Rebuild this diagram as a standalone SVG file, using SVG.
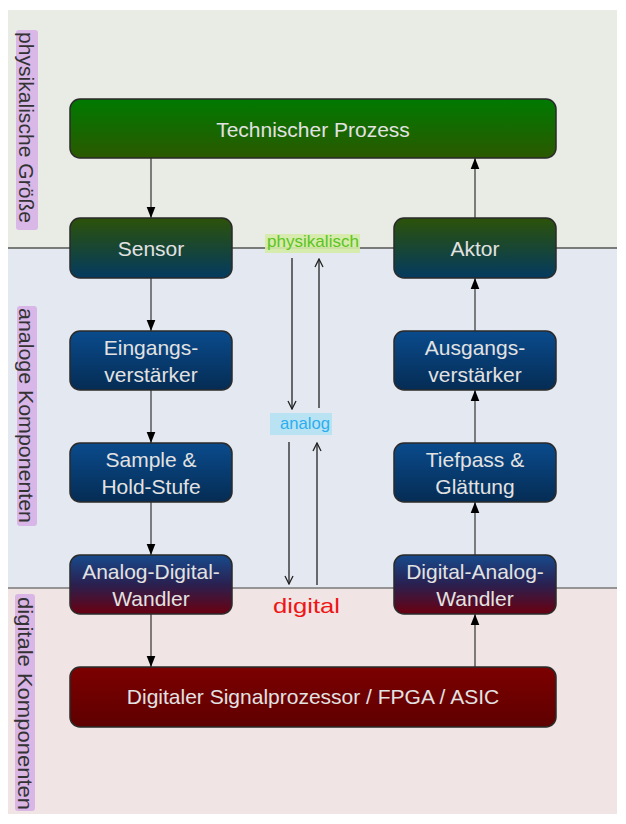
<svg xmlns="http://www.w3.org/2000/svg" width="626" height="824" viewBox="0 0 626 824">
<defs>
<linearGradient id="gGreen" x1="0" y1="0" x2="0" y2="1"><stop offset="0" stop-color="#007a00"/><stop offset="1" stop-color="#2b5800"/></linearGradient>
<linearGradient id="gOlive" x1="0" y1="0" x2="0" y2="1"><stop offset="0" stop-color="#2c5208"/><stop offset="1" stop-color="#043a60"/></linearGradient>
<linearGradient id="gBlue" x1="0" y1="0" x2="0" y2="1"><stop offset="0" stop-color="#0a4b8c"/><stop offset="1" stop-color="#052c54"/></linearGradient>
<linearGradient id="gConv" x1="0" y1="0" x2="0" y2="1"><stop offset="0" stop-color="#174a8c"/><stop offset="0.5" stop-color="#2a2050"/><stop offset="1" stop-color="#6a0010"/></linearGradient>
<linearGradient id="gRed" x1="0" y1="0" x2="0" y2="1"><stop offset="0" stop-color="#7c0000"/><stop offset="1" stop-color="#5e0000"/></linearGradient>
<marker id="tri" markerWidth="11" markerHeight="15" refX="14" refY="5.5" viewBox="0 0 14 11" markerUnits="userSpaceOnUse" orient="auto">
<path d="M0,0 L14,5.5 L0,11 Z" fill="#000"/>
</marker>
<marker id="vee" markerWidth="10" markerHeight="10" refX="9" refY="5" viewBox="0 0 10 10" markerUnits="userSpaceOnUse" orient="auto">
<path d="M1,1 L9,5 L1,9" fill="none" stroke="#222" stroke-width="1.3"/>
</marker>
</defs>
<style>
.box{stroke:#2a2a2a;stroke-width:1.5}
.lbl{font-family:"Liberation Sans",Arial,sans-serif;font-size:21px;fill:#e2e2e2;text-anchor:middle}
.side{font-family:"Liberation Sans",Arial,sans-serif;font-size:21px;fill:#333}
.hl{fill:#d6aee6;opacity:0.85}
.conn{stroke:#333;stroke-width:1.2;fill:none}
.mid{stroke:#222;stroke-width:1.3;fill:none}
.hand{font-family:"Liberation Sans",Arial,sans-serif;font-weight:normal}
</style>
<g id="background">
<rect x="8" y="10" width="609" height="238" fill="#e9ebe5"/>
<rect x="8" y="248" width="609" height="340" fill="#e4e9f1"/>
<rect x="8" y="588" width="609" height="226" fill="#f1e4e4"/>
<line x1="8" y1="248" x2="617" y2="248" stroke="#555" stroke-width="1.5"/>
<line x1="8" y1="588" x2="617" y2="588" stroke="#777" stroke-width="1.5"/>
</g>
<g id="side-labels">
<rect class="hl" x="16" y="30" width="22" height="200" rx="3"/>
<text class="side" x="19" y="32" transform="rotate(90 19 32)" textLength="191" lengthAdjust="spacingAndGlyphs">physikalische Größe</text>
<rect class="hl" x="17" y="306" width="20" height="220" rx="3"/>
<text class="side" x="19" y="308" transform="rotate(90 19 308)" textLength="215" lengthAdjust="spacingAndGlyphs">analoge Komponenten</text>
<rect class="hl" x="15" y="594" width="20" height="217" rx="3"/>
<text class="side" x="18" y="597" transform="rotate(90 18 597)" textLength="213" lengthAdjust="spacingAndGlyphs">digitale Komponenten</text>
</g>
<g id="connectors">
<line class="conn" x1="151" y1="158" x2="151" y2="218" marker-end="url(#tri)"/>
<line class="conn" x1="151" y1="278" x2="151" y2="331" marker-end="url(#tri)"/>
<line class="conn" x1="151" y1="390" x2="151" y2="443" marker-end="url(#tri)"/>
<line class="conn" x1="151" y1="502" x2="151" y2="555" marker-end="url(#tri)"/>
<line class="conn" x1="151" y1="614" x2="151" y2="667" marker-end="url(#tri)"/>
<line class="conn" x1="475" y1="667" x2="475" y2="614" marker-end="url(#tri)"/>
<line class="conn" x1="475" y1="555" x2="475" y2="502" marker-end="url(#tri)"/>
<line class="conn" x1="475" y1="443" x2="475" y2="390" marker-end="url(#tri)"/>
<line class="conn" x1="475" y1="331" x2="475" y2="278" marker-end="url(#tri)"/>
<line class="conn" x1="475" y1="218" x2="475" y2="158" marker-end="url(#tri)"/>
<line class="mid" x1="292" y1="258" x2="292" y2="409" marker-end="url(#vee)"/>
<line class="mid" x1="319" y1="408" x2="319" y2="259" marker-end="url(#vee)"/>
<line class="mid" x1="289" y1="442" x2="289" y2="584" marker-end="url(#vee)"/>
<line class="mid" x1="317" y1="585" x2="317" y2="443" marker-end="url(#vee)"/>
</g>
<g id="annotations">
<rect x="265" y="234" width="95" height="19" fill="#d4eba6" opacity="0.9"/>
<text class="hand" x="267" y="247" font-size="17" fill="#5cc41c" textLength="92" lengthAdjust="spacingAndGlyphs">physikalisch</text>
<rect x="270" y="413" width="62" height="22" fill="#b4e2f2" opacity="0.9"/>
<text class="hand" x="280" y="429" font-size="17" fill="#2aaef0" textLength="50" lengthAdjust="spacingAndGlyphs">analog</text>
<text class="hand" x="273" y="613" font-size="21" fill="#ee1515" textLength="67" lengthAdjust="spacingAndGlyphs">digital</text>
</g>
<g id="n-prozess">
<rect class="box" x="70" y="99" width="486" height="59" rx="10" fill="url(#gGreen)"/>
<text class="lbl" x="313" y="137">Technischer Prozess</text>
</g>
<g id="n-sensor">
<rect class="box" x="70" y="218" width="162" height="60" rx="10" fill="url(#gOlive)"/>
<text class="lbl" x="151" y="256">Sensor</text>
</g>
<g id="n-aktor">
<rect class="box" x="394" y="218" width="162" height="60" rx="10" fill="url(#gOlive)"/>
<text class="lbl" x="475" y="256">Aktor</text>
</g>
<g id="n-eingang">
<rect class="box" x="70" y="331" width="162" height="59" rx="10" fill="url(#gBlue)"/>
<text class="lbl" x="151" y="355">Eingangs-</text>
<text class="lbl" x="151" y="382">verstärker</text>
</g>
<g id="n-ausgang">
<rect class="box" x="394" y="331" width="162" height="59" rx="10" fill="url(#gBlue)"/>
<text class="lbl" x="475" y="355">Ausgangs-</text>
<text class="lbl" x="475" y="382">verstärker</text>
</g>
<g id="n-sample">
<rect class="box" x="70" y="443" width="162" height="59" rx="10" fill="url(#gBlue)"/>
<text class="lbl" x="151" y="467">Sample &amp;</text>
<text class="lbl" x="151" y="494">Hold-Stufe</text>
</g>
<g id="n-tiefpass">
<rect class="box" x="394" y="443" width="162" height="59" rx="10" fill="url(#gBlue)"/>
<text class="lbl" x="475" y="467">Tiefpass &amp;</text>
<text class="lbl" x="475" y="494">Glättung</text>
</g>
<g id="n-adc">
<rect class="box" x="70" y="555" width="162" height="59" rx="10" fill="url(#gConv)"/>
<text class="lbl" x="151" y="579">Analog-Digital-</text>
<text class="lbl" x="151" y="606">Wandler</text>
</g>
<g id="n-dac">
<rect class="box" x="394" y="555" width="162" height="59" rx="10" fill="url(#gConv)"/>
<text class="lbl" x="475" y="579">Digital-Analog-</text>
<text class="lbl" x="475" y="606">Wandler</text>
</g>
<g id="n-dsp">
<rect class="box" x="70" y="667" width="486" height="60" rx="10" fill="url(#gRed)"/>
<text class="lbl" x="313" y="704">Digitaler Signalprozessor / FPGA / ASIC</text>
</g>
</svg>
